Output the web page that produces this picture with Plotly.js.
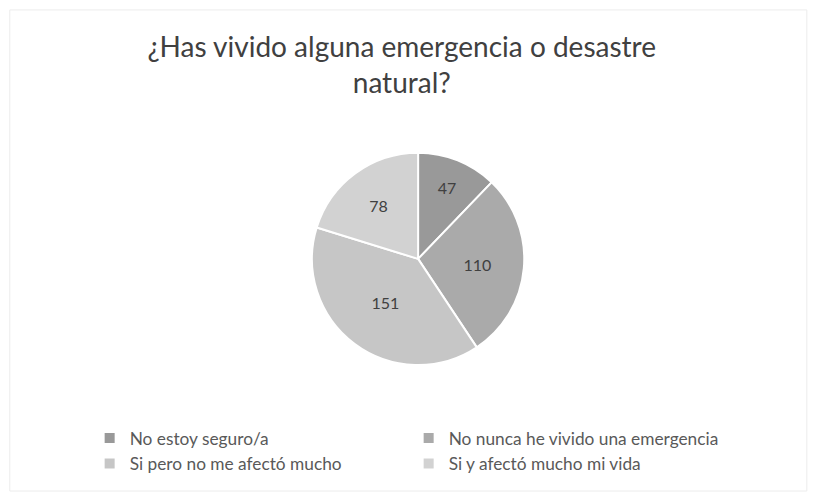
<!DOCTYPE html>
<html><head><meta charset="utf-8">
<script src="https://cdn.plot.ly/plotly-3.0.1.min.js"></script>
<style>html,body{margin:0;padding:0;background:#fff}#chart{width:815px;height:496px}</style>
</head><body><div id="chart"></div>
<script>
const categories = ["No estoy seguro/a", "No nunca he vivido una emergencia", "Si pero no me afectó mucho", "Si y afectó mucho mi vida"];
const values = [47, 110, 151, 78];
const sliceColors = ["#999999", "#aaaaaa", "#c6c6c6", "#d2d2d2"];
const titleText = "¿Has vivido alguna emergencia o desastre<br>natural?";

const trace = {
  type: "pie",
  labels: categories,
  values: values,
  sort: false,
  direction: "clockwise",
  rotation: 0,
  marker: {colors: sliceColors, line: {color: "#ffffff", width: 2}},
  textinfo: "value",
  textposition: "inside",
  insidetextorientation: "horizontal",
  textfont: {family: "Lato, sans-serif", size: 16, color: "#404040"},
  domain: {x: [0.3, 0.726], y: [0.264, 0.692]},
  hoverinfo: "none"
};
const layout = {
  width: 815, height: 496,
  margin: {l: 0, r: 0, t: 0, b: 0},
  paper_bgcolor: "#ffffff",
  title: {text: titleText, x: 0.493, xanchor: "center", y: 0.885, yanchor: "top",
          font: {family: "Lato, sans-serif", size: 28, color: "#404040"}},
  showlegend: true,
  legend: {orientation: "h", x: 0.11, xanchor: "left", y: 0.091, yanchor: "middle",
           entrywidth: 274, entrywidthmode: "pixels", traceorder: "normal",
           font: {family: "Lato, sans-serif", size: 17.3, color: "#595959"}, itemwidth: 30},
  shapes: [{type: "rect", xref: "paper", yref: "paper", x0: 0.012, x1: 0.99, y0: 0.01, y1: 0.98,
            line: {color: "#ececec", width: 1}}]
};
Plotly.newPlot("chart", [trace], layout, {staticPlot: true});
</script></body></html>
